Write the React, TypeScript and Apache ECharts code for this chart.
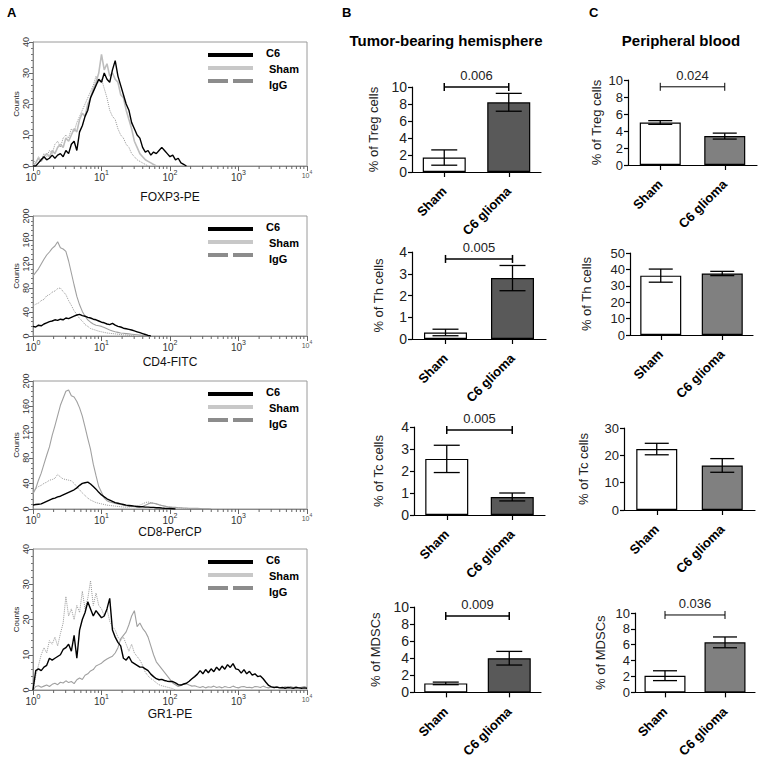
import React, { useEffect, useRef } from "react";
import * as echarts from "echarts";

const FONT = '"Liberation Sans", Arial, Helvetica, sans-serif';

// ---------- Flow cytometry histograms (x in decades of fluorescence, bins of HIST_STEP) ----------
const HIST_STEP = 0.04;
const DECADE_TICKS = [0, 1, 2, 3, 4];
const MINOR_TICK_FACTORS = [2, 3, 4, 5, 6, 7, 8, 9];
const HIST_LEGEND = ["C6", "Sham", "IgG"];
const HIST_NAMES = ["FOXP3-PE", "CD4-FITC", "CD8-PerCP", "GR1-PE"];
const HIST_Y_MAX = [40, 200, 200, 40];
const HIST_Y_INTERVAL = [10, 40, 40, 10];

const FOXP3_C6 = [0, 0, 1, 2, 3, 2, 2.5, 3.5, 2.5, 3.5, 4, 3, 5, 4, 7, 8, 5, 11, 13, 16, 18, 22, 24, 26, 28, 27, 30, 28, 27, 31, 34, 29, 26, 23, 20, 18, 14, 12, 10, 9, 6, 4.5, 5, 3.5, 4.5, 4, 5, 6, 5, 4, 3, 3.5, 2, 2.5, 1, 0.5, 0];
const FOXP3_SHAM = [0, 1, 2.5, 1.5, 3, 4, 3, 5, 4, 6, 7, 6, 9, 8, 10, 12, 11, 15, 17, 16, 20, 22, 25, 27, 30, 36, 31, 33, 29, 30, 28, 27, 23, 22, 18, 15, 12, 8, 6, 4, 3, 2, 1.5, 1, 0.5, 0];
const FOXP3_IGG = [2, 1, 3, 2, 4, 3, 5, 4, 7, 8, 6, 9, 10, 9, 12, 11, 14, 16, 18, 20, 22, 24, 26, 29, 27, 28, 25, 22, 18, 16, 15, 12, 10, 9, 7, 6, 4, 3, 2, 1.5, 1, 0.5, 0];

const CD4_C6 = [16, 15, 18, 17, 20, 22, 24, 25, 27, 26, 28, 27, 30, 29, 31, 33, 35, 36, 34, 33, 31, 30, 28, 27, 25, 23, 22, 20, 19, 21, 18, 16, 15, 13, 12, 11, 10, 8.5, 7, 5.5, 4, 2.5, 1, 0];
const CD4_SHAM = [100, 106, 112, 120, 128, 135, 140, 146, 150, 157, 147, 145, 141, 125, 105, 85, 66, 52, 41, 33, 27, 23, 20, 18, 17, 16, 14, 12, 10, 8.5, 7, 6, 5, 4.5, 4, 3.5, 3, 2.5, 2, 1.5, 1, 0.5, 0];
const CD4_IGG = [50, 53, 55, 59, 61, 67, 69, 73, 75, 79, 80, 74, 69, 59, 51, 42, 36, 29, 25, 19, 16, 12.5, 11, 9.5, 8, 7, 6, 5, 4.5, 4, 3.5, 3, 2.5, 2, 1.5, 1, 0.5, 0];

const CD8_C6 = [6, 7, 7.5, 8, 10, 12, 14, 16, 17, 19, 20, 22, 24, 26, 28, 30, 33, 37, 40, 41, 42, 39, 35, 31, 26, 22, 19, 16, 14, 12, 10, 9, 8, 7, 6, 5.5, 5, 4.5, 4, 3.5, 3.5, 3, 3, 2.5, 2.5, 2, 2, 1.5, 1.2, 1, 0.8, 0.5, 0];
const CD8_SHAM = [24, 32, 45, 56, 70, 84, 97, 115, 130, 146, 162, 173, 184, 186, 177, 175, 168, 158, 145, 128, 110, 93, 70, 52, 35, 26, 17, 13, 11, 10, 8.5, 8, 7, 6, 5, 4.5, 4, 3.5, 3, 3, 4, 6, 8, 9.5, 9, 8, 6.5, 5.5, 4.5, 3.5, 3, 2.5, 2.5, 2, 2, 1.5, 1.5, 1.2, 1, 1, 1, 0.8, 0.5, 0.5, 0.3, 0];
const CD8_IGG = [29, 32, 35, 37, 40, 42, 45, 46, 48, 54, 50, 47, 46, 45, 44, 40, 35, 30, 25, 21, 17, 14, 12, 10, 9, 8, 7, 6, 5.5, 5, 4.5, 4, 3.5, 3, 3, 3, 3.5, 4, 4.5, 6, 8, 10, 11, 10, 9, 8, 7, 5.5, 4.5, 4, 3, 2.5, 2, 2, 1.5, 1, 0.8, 0.5, 0];

const GR1_C6 = [0, 5.5, 6, 5.5, 6.5, 7, 9, 8.5, 9, 9.5, 10, 11.5, 12, 13, 11, 15.5, 9, 17, 20, 22, 25, 23, 21, 22.5, 21.5, 20.5, 21, 23, 26, 17, 15, 13.5, 12.5, 9, 8.5, 9.5, 8, 7.5, 7, 6.5, 6.5, 6, 5.5, 4.5, 3.8, 3.2, 2.9, 3, 2.7, 2.5, 2.4, 2.4, 2, 1.5, 1.4, 1.7, 1.9, 2.5, 3.2, 3.8, 4.5, 5.5, 4.6, 5.8, 4.9, 6, 5.2, 6.5, 5.6, 6.8, 5.9, 7.2, 6.4, 7.5, 6, 5.8, 4.8, 5.8, 4.6, 5.3, 4.2, 4.6, 3.8, 4, 3.2, 2.2, 1.3, 0.9, 0.7, 0.8, 0.6, 0.7, 0.5, 0.7, 0.6, 0.5, 0.7, 0.6, 0.5, 0.6, 0.5];
const GR1_SHAM = [0, 1, 1.2, 0.8, 1.1, 1.4, 1, 1.6, 1.9, 1.5, 2.2, 2, 2.6, 2.1, 2.4, 1.8, 2.9, 3.4, 3, 4.2, 4.6, 5.4, 5.8, 6.8, 7.2, 7.6, 8.3, 8.8, 9.2, 9.6, 10.5, 12, 14.5, 15.5, 16.5, 18.5, 21, 22.5, 18, 19, 17.5, 16.5, 15, 12.5, 10, 8, 7, 6, 5, 4, 3, 2, 1.5, 1, 1.3, 1.6, 1.8, 1.4, 1.1, 1.2, 0.9, 0.7, 1, 0.6, 0.9, 0.8, 1.1, 0.7, 0.9, 0.6, 1, 0.8, 0.7, 1.1, 0.8, 0.6, 0.9, 1, 0.7, 0.8, 0.6, 1, 0.9, 0.7, 1.1, 0.8, 0.6, 0.9, 0.8, 1, 0.7, 0.6, 0.9, 0.8, 1, 0.7, 0.9, 0.6, 0.8, 1, 0.7];
const GR1_IGG = [0, 4, 7, 10, 12, 10.5, 14, 13, 15, 12.5, 16, 19, 26.5, 21, 23, 20, 24, 22, 28, 23, 26, 31, 24, 27.5, 24, 23, 21, 23, 19.5, 18, 17, 15, 14, 15, 13, 11, 13, 10.5, 9.5, 8.5, 7, 5, 4, 3.2, 2.8, 2, 1.5, 1.2, 1, 0.8, 0.6, 0.4, 0];

const HIST_C6 = [FOXP3_C6, CD4_C6, CD8_C6, GR1_C6];
const HIST_SHAM = [FOXP3_SHAM, CD4_SHAM, CD8_SHAM, GR1_SHAM];
const HIST_IGG = [FOXP3_IGG, CD4_IGG, CD8_IGG, GR1_IGG];

// ---------- Bar charts ----------
const BAR_CATEGORIES = ["Sham", "C6 glioma"];
const TUMOR_TITLE = "Tumor-bearing hemisphere";
const BLOOD_TITLE = "Peripheral blood";
const CELL_LABELS = ["% of Treg cells", "% of Th cells", "% of Tc cells", "% of MDSCs"];

const TUMOR_TREG_MEAN = [1.7, 8.2];
const TUMOR_TREG_SEM = [0.9, 1.05];
const TUMOR_TH_MEAN = [0.3, 2.8];
const TUMOR_TH_SEM = [0.15, 0.58];
const TUMOR_TC_MEAN = [2.55, 0.82];
const TUMOR_TC_SEM = [0.62, 0.18];
const TUMOR_MDSC_MEAN = [1.05, 4.0];
const TUMOR_MDSC_SEM = [0.15, 0.8];

const BLOOD_TREG_MEAN = [5.0, 3.4];
const BLOOD_TREG_SEM = [0.22, 0.35];
const BLOOD_TH_MEAN = [36.2, 37.5];
const BLOOD_TH_SEM = [4.0, 1.3];
const BLOOD_TC_MEAN = [22.3, 16.3];
const BLOOD_TC_SEM = [2.1, 2.5];
const BLOOD_MDSC_MEAN = [2.1, 6.3];
const BLOOD_MDSC_SEM = [0.62, 0.68];

const TUMOR_Y_MAX = [10, 4, 4, 10];
const TUMOR_Y_INTERVAL = [2, 1, 1, 2];
const BLOOD_Y_MAX = [10, 50, 30, 10];
const BLOOD_Y_INTERVAL = [2, 10, 10, 2];

const TUMOR_P_TEXT = ["0.006", "0.005", "0.005", "0.009"];
const TUMOR_P_LEVEL = [10, 3.68, 3.86, 8.95];
const BLOOD_P_TEXT = ["0.024", "", "", "0.036"];
const BLOOD_P_LEVEL = [9.2, 0, 0, 9.75];

const TUMOR_MEANS = [TUMOR_TREG_MEAN, TUMOR_TH_MEAN, TUMOR_TC_MEAN, TUMOR_MDSC_MEAN];
const TUMOR_SEMS = [TUMOR_TREG_SEM, TUMOR_TH_SEM, TUMOR_TC_SEM, TUMOR_MDSC_SEM];
const BLOOD_MEANS = [BLOOD_TREG_MEAN, BLOOD_TH_MEAN, BLOOD_TC_MEAN, BLOOD_MDSC_MEAN];
const BLOOD_SEMS = [BLOOD_TREG_SEM, BLOOD_TH_SEM, BLOOD_TC_SEM, BLOOD_MDSC_SEM];

// ---------- layout (pixels) ----------
const HIST_LAYOUT = [
  { left: 33, top: 42, width: 274, height: 124, nameGap: 25 },
  { left: 33, top: 216, width: 274, height: 120, nameGap: 20 },
  { left: 33, top: 381, width: 274, height: 128, nameGap: 14 },
  { left: 33, top: 549, width: 274, height: 141, nameGap: 18 },
];
const TUMOR_LAYOUT = [
  { left: 412, top: 87, width: 129, height: 85, nameGap: 32 },
  { left: 412, top: 252, width: 134, height: 87, nameGap: 27 },
  { left: 414, top: 427, width: 131, height: 88, nameGap: 29 },
  { left: 414, top: 607, width: 127, height: 86, nameGap: 32 },
];
const BLOOD_LAYOUT = [
  { left: 628, top: 80, width: 129, height: 85, nameGap: 25 },
  { left: 630, top: 253, width: 123, height: 82, nameGap: 37 },
  { left: 624, top: 428, width: 131, height: 82, nameGap: 34 },
  { left: 635, top: 613, width: 120, height: 80, nameGap: 28 },
];

function buildOption() {
  const grid: any[] = [];
  const xAxis: any[] = [];
  const yAxis: any[] = [];
  const series: any[] = [];
  const graphic: any[] = [];

  const minorTicks: number[][] = [];
  DECADE_TICKS.slice(0, 4).forEach((d) =>
    MINOR_TICK_FACTORS.forEach((f) => minorTicks.push([d + Math.log10(f), 0]))
  );

  // ---- histograms ----
  HIST_LAYOUT.forEach((L, k) => {
    const gi = grid.length;
    grid.push({ left: L.left, top: L.top, width: L.width, height: L.height, show: true, borderColor: "#9a9a9a", borderWidth: 1 });
    xAxis.push({
      gridIndex: gi, type: "value", min: 0, max: 4, interval: 1,
      name: HIST_NAMES[k], nameLocation: "middle", nameGap: L.nameGap,
      nameTextStyle: { fontFamily: FONT, fontSize: 12, color: "#111" },
      axisLine: { show: true, lineStyle: { color: "#888", width: 1 } },
      axisTick: { show: true, length: 5, lineStyle: { color: "#666" } },
      splitLine: { show: false },
      axisLabel: {
        margin: 3,
        formatter: (v: number) => (v === 4 ? "{bs|10}{ss|4}" : "{b|10}{s|" + v + "}"),
        rich: {
          b: { fontFamily: FONT, fontSize: 10, color: "#333", verticalAlign: "bottom", lineHeight: 13 },
          s: { fontFamily: FONT, fontSize: 7, color: "#333", verticalAlign: "top", lineHeight: 13 },
          bs: { fontFamily: FONT, fontSize: 7, color: "#555", verticalAlign: "bottom", lineHeight: 10 },
          ss: { fontFamily: FONT, fontSize: 5, color: "#555", verticalAlign: "top", lineHeight: 10 },
        },
      },
    });
    yAxis.push({
      gridIndex: gi, type: "value", min: 0, max: HIST_Y_MAX[k], interval: HIST_Y_INTERVAL[k],
      name: "Counts", nameLocation: "middle", nameGap: 13,
      nameTextStyle: { fontFamily: FONT, fontSize: 8, color: "#222" },
      axisLine: { show: true, lineStyle: { color: "#888", width: 1 } },
      axisTick: { show: true, length: 4, lineStyle: { color: "#666" } },
      minorTick: { show: true, splitNumber: 5, length: 2, lineStyle: { color: "#777" } },
      splitLine: { show: false },
      axisLabel: { rotate: 90, margin: 3, fontFamily: FONT, fontSize: 9, color: "#333" },
    });
    const pairs = (arr: number[]) => arr.map((v, i) => [i * HIST_STEP, v]);
    series.push({
      type: "line", name: "IgG", xAxisIndex: gi, yAxisIndex: gi, data: pairs(HIST_IGG[k]),
      showSymbol: false, lineStyle: { color: "#999", width: 1, type: "dotted" }, z: 2,
    });
    series.push({
      type: "line", name: "Sham", xAxisIndex: gi, yAxisIndex: gi, data: pairs(HIST_SHAM[k]),
      showSymbol: false, lineStyle: { color: k === 0 ? "#bdbdbd" : "#a0a0a0", width: k === 0 ? 1.6 : 1.1 }, z: 3,
    });
    series.push({
      type: "line", name: "C6", xAxisIndex: gi, yAxisIndex: gi, data: pairs(HIST_C6[k]),
      showSymbol: false, lineStyle: { color: "#000", width: 1.4 }, z: 4,
    });
    series.push({
      type: "custom", xAxisIndex: gi, yAxisIndex: gi, data: minorTicks, silent: true, z: 5,
      encode: { x: 0, y: 1 },
      renderItem: (params: any, api: any) => {
        const p = api.coord([api.value(0), 0]);
        return { type: "line", shape: { x1: p[0], y1: p[1], x2: p[0], y2: p[1] + 3 }, style: { stroke: "#666", lineWidth: 1 } };
      },
    });
    // legend
    const lineY = [L.top + 13, L.top + 26, L.top + 39];
    const textY = [L.top + 11, L.top + 27, L.top + 43];
    const textX = [266, 269, 269];
    const legendStyles = [
      { stroke: "#000", lineWidth: 4 },
      { stroke: "#c8c8c8", lineWidth: 4 },
      { stroke: "#8c8c8c", lineWidth: 4, lineDash: [20, 5] },
    ];
    HIST_LEGEND.forEach((label, j) => {
      graphic.push({ type: "line", shape: { x1: 208, y1: lineY[j], x2: 253, y2: lineY[j] }, style: legendStyles[j] });
      graphic.push({
        type: "text", x: textX[j], y: textY[j],
        style: { text: label, fontFamily: FONT, fontSize: 11, fontWeight: "bold", fill: "#000", verticalAlign: "middle" },
      });
    });
  });

  // ---- bar charts ----
  const addBars = (L: any, k: number, means: number[], sems: number[], yMax: number, yInt: number, c6Color: string,
    pText: string, pLevel: number, labelSize: number, barWidth: number, capHalf: number, bracketWidth: number) => {
    const gi = grid.length;
    grid.push({ left: L.left, top: L.top, width: L.width, height: L.height });
    xAxis.push({
      gridIndex: gi, type: "category", data: BAR_CATEGORIES,
      axisLine: { show: true, lineStyle: { color: "#000", width: 1.2 } },
      axisTick: { show: true, alignWithLabel: true, length: 5, lineStyle: { color: "#000", width: 1.2 } },
      axisLabel: { interval: 0, rotate: 45, margin: 17, fontFamily: FONT, fontSize: 13, fontWeight: "bold", color: "#000" },
      splitLine: { show: false },
    });
    yAxis.push({
      gridIndex: gi, type: "value", min: 0, max: yMax, interval: yInt,
      name: CELL_LABELS[k], nameLocation: "middle", nameGap: L.nameGap,
      nameTextStyle: { fontFamily: FONT, fontSize: 13, color: "#222" },
      axisLine: { show: true, lineStyle: { color: "#000", width: 1.2 } },
      axisTick: { show: true, length: 4, lineStyle: { color: "#000", width: 1.2 } },
      axisLabel: { margin: 5, fontFamily: FONT, fontSize: labelSize, color: "#222" },
      splitLine: { show: false },
    });
    series.push({
      type: "bar", xAxisIndex: gi, yAxisIndex: gi, barWidth,
      data: means.map((v, i) => ({ value: v, itemStyle: { color: i === 0 ? "#ffffff" : c6Color, borderColor: "#000", borderWidth: 1.2 } })),
      z: 2,
    });
    series.push({
      type: "custom", xAxisIndex: gi, yAxisIndex: gi, z: 5, silent: true,
      data: means.map((v, i) => [i, v - sems[i], v + sems[i]]),
      encode: { x: 0, y: [1, 2] },
      renderItem: (params: any, api: any) => {
        const i = api.value(0);
        const lo = api.coord([i, api.value(1)]);
        const hi = api.coord([i, api.value(2)]);
        const st = { stroke: "#000", lineWidth: 1.3 };
        return {
          type: "group",
          children: [
            { type: "line", shape: { x1: lo[0], y1: lo[1], x2: hi[0], y2: hi[1] }, style: st },
            { type: "line", shape: { x1: hi[0] - capHalf, y1: hi[1], x2: hi[0] + capHalf, y2: hi[1] }, style: st },
            { type: "line", shape: { x1: lo[0] - capHalf, y1: lo[1], x2: lo[0] + capHalf, y2: lo[1] }, style: st },
          ],
        };
      },
    });
    if (pText) {
      series.push({
        type: "custom", xAxisIndex: gi, yAxisIndex: gi, z: 5, silent: true,
        data: [[0, 1, pLevel]],
        encode: { x: [0, 1], y: 2 },
        renderItem: (params: any, api: any) => {
          const a = api.coord([api.value(0), api.value(2)]);
          const b = api.coord([api.value(1), api.value(2)]);
          const st = { stroke: "#000", lineWidth: bracketWidth };
          return {
            type: "group",
            children: [
              { type: "line", shape: { x1: a[0], y1: a[1], x2: b[0], y2: b[1] }, style: st },
              { type: "line", shape: { x1: a[0], y1: a[1] - 4, x2: a[0], y2: a[1] + 4 }, style: st },
              { type: "line", shape: { x1: b[0], y1: b[1] - 4, x2: b[0], y2: b[1] + 4 }, style: st },
              {
                type: "text", x: (a[0] + b[0]) / 2, y: a[1] - 5,
                style: { text: pText, fontFamily: FONT, fontSize: 13, fill: "#222", align: "center", verticalAlign: "bottom" },
              },
            ],
          };
        },
      });
    }
  };

  TUMOR_LAYOUT.forEach((L, k) =>
    addBars(L, k, TUMOR_MEANS[k], TUMOR_SEMS[k], TUMOR_Y_MAX[k], TUMOR_Y_INTERVAL[k], "#595959",
      TUMOR_P_TEXT[k], TUMOR_P_LEVEL[k], 14, 43, 13, 1.5)
  );
  BLOOD_LAYOUT.forEach((L, k) =>
    addBars(L, k, BLOOD_MEANS[k], BLOOD_SEMS[k], BLOOD_Y_MAX[k], BLOOD_Y_INTERVAL[k], "#808080",
      BLOOD_P_TEXT[k], BLOOD_P_LEVEL[k], 13, 41, 12, 1)
  );

  // ---- titles and panel letters ----
  const title = (text: string, x: number, y: number, size: number, align = "center") => ({
    type: "text", x, y,
    style: { text, fontFamily: FONT, fontSize: size, fontWeight: "bold", fill: "#000", align, verticalAlign: "middle" },
  });
  graphic.push(title("A", 7, 12, 13, "left"));
  graphic.push(title("B", 342, 12, 13, "left"));
  graphic.push(title("C", 589, 12, 13, "left"));
  graphic.push(title(TUMOR_TITLE, 446, 40, 15));
  graphic.push(title(BLOOD_TITLE, 681, 40, 15));

  return {
    animation: false,
    backgroundColor: "#fff",
    textStyle: { fontFamily: FONT },
    grid, xAxis, yAxis, series, graphic,
  };
}

export default function App() {
  const ref = useRef<HTMLDivElement>(null);
  useEffect(() => {
    if (!ref.current) return;
    const chart = echarts.init(ref.current, null, { renderer: "svg" });
    chart.setOption(buildOption() as any);
    return () => chart.dispose();
  }, []);
  return <div ref={ref} style={{ position: "fixed", left: 0, top: 0, width: 760, height: 760, background: "#fff" }} />;
}
